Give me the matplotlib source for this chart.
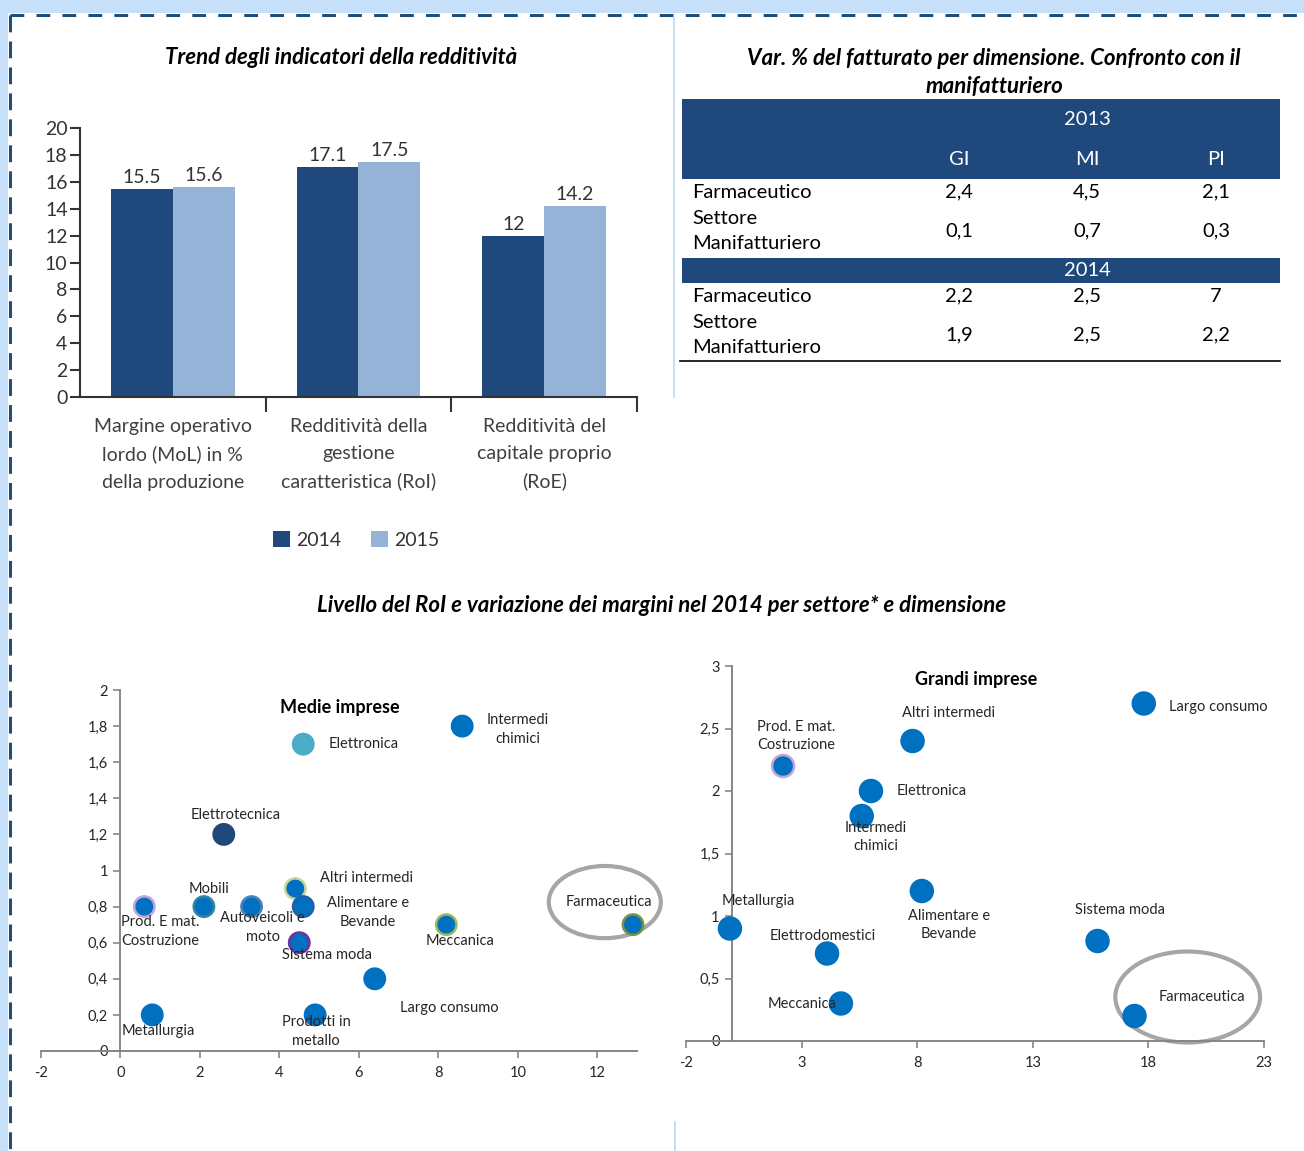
import numpy as np
import matplotlib
matplotlib.use("Agg")
import matplotlib.pyplot as plt
from matplotlib.patches import Rectangle, Ellipse
from matplotlib.ticker import FuncFormatter

plt.rcParams['font.family'] = ['Lato', 'DejaVu Sans']

W, H, DPI = 1304, 1151, 100

# ---------------- data ----------------
bar_categories = ["Margine operativo\nlordo (MoL) in %\ndella produzione",
                  "Redditività della\ngestione\ncaratteristica (RoI)",
                  "Redditività del\ncapitale proprio\n(RoE)"]
bar_years = ["2014", "2015"]
values_2014 = [15.5, 17.1, 12]
values_2015 = [15.6, 17.5, 14.2]

table_years = ["2013", "2014"]
table_columns = ["GI", "MI", "PI"]
table_rows = ["Farmaceutico", "Settore\nManifatturiero"]
var_2013 = [[2.4, 4.5, 2.1], [0.1, 0.7, 0.3]]
var_2014 = [[2.2, 2.5, 7], [1.9, 2.5, 2.2]]

medie_settori = ["Prod. E mat.\nCostruzione", "Mobili", "Autoveicoli e\nmoto", "Altri intermedi",
                 "Alimentare e\nBevande", "Sistema moda", "Elettronica", "Intermedi\nchimici",
                 "Elettrotecnica", "Meccanica", "Farmaceutica", "Largo consumo",
                 "Metallurgia", "Prodotti in\nmetallo"]
medie_x = [0.6, 2.1, 3.3, 4.4, 4.6, 4.5, 4.6, 8.6, 2.6, 8.2, 12.9, 6.4, 0.8, 4.9]
medie_y = [0.8, 0.8, 0.8, 0.9, 0.8, 0.6, 1.7, 1.8, 1.2, 0.7, 0.7, 0.4, 0.2, 0.2]

grandi_settori = ["Largo consumo", "Altri intermedi", "Prod. E mat.\nCostruzione", "Elettronica",
                  "Intermedi\nchimici", "Alimentare e\nBevande", "Metallurgia",
                  "Elettrodomestici", "Meccanica", "Sistema moda", "Farmaceutica"]
grandi_x = [17.8, 7.8, 2.2, 6.0, 5.6, 8.2, -0.1, 4.1, 4.7, 15.8, 17.4]
grandi_y = [2.7, 2.4, 2.2, 2.0, 1.8, 1.2, 0.9, 0.7, 0.3, 0.8, 0.2]

# ---------------- styles ----------------
NAVY = '#1F497D'
LIGHT = '#95B3D7'
BLUE = '#0070C0'
AXIS_GREY = '#868686'
TEXT = '#262626'

medie_fill = [BLUE, BLUE, BLUE, BLUE, BLUE, BLUE, '#4BACC6', BLUE, NAVY, BLUE, BLUE, BLUE, BLUE, BLUE]
medie_edge = ['#C3A5D6', '#31859C', '#4F81BD', '#C3D69B', '#1F5FA8', '#7030A0', '#4BACC6', BLUE,
              NAVY, '#9BBB59', '#77933C', BLUE, BLUE, BLUE]
# label offsets in pixels (dx right, dy up)
medie_offsets = [(16, -25), (5, 18), (11, -21), (71, 11), (65, -6), (28, -12), (60, 0), (56, -3),
                 (12, 19), (14, -16), (-24, 23), (75, -29), (6, -16), (1, -17)]

grandi_fill = [BLUE] * len(grandi_x)
grandi_edge = [BLUE, BLUE, '#C3A5D6', BLUE, BLUE, BLUE, BLUE, BLUE, BLUE, BLUE, BLUE]
grandi_offsets = [(75, -3), (36, 28), (13, 30), (61, 0), (14, -21), (27, -34), (28, 27),
                  (-4, 17), (-39, 0), (22, 31), (67, 19)]


def px_rect(x0, y0, x1, y1):
    """Axes rectangle from pixel corners (origin top-left)."""
    return [x0 / W, 1 - y1 / H, (x1 - x0) / W, (y1 - y0) / H]


def comma(v, _pos=None):
    s = f"{round(v, 2):g}"
    return s.replace('.', ',')


fig = plt.figure(figsize=(W / DPI, H / DPI), dpi=DPI)

# ---------------- page canvas: frame, separators, table ----------------
cv = fig.add_axes([0, 0, 1, 1], zorder=0)
cv.set_xlim(0, W)
cv.set_ylim(H, 0)
cv.axis('off')

FRAME_BLUE = '#C6E0FA'
cv.add_patch(Rectangle((0, 0), W, 13, color=FRAME_BLUE, lw=0))
cv.add_patch(Rectangle((0, 0), 8, H, color=FRAME_BLUE, lw=0))
cv.plot([10, W], [15, 15], color='#1F4E79', lw=2.2, dashes=(4.5, 4), solid_capstyle='butt')
cv.plot([10, 10], [15, H], color='#1F4E79', lw=2.2, dashes=(5.5, 3), solid_capstyle='butt')
cv.plot([674, 674], [16, 397], color='#BDD7EE', lw=1.2)
cv.plot([675, 675], [1122, H], color='#BDD7EE', lw=1.2)

TITLE_KW = dict(ha='center', va='center', fontsize=16, fontweight='bold', fontstyle='italic',
                color='black')

# table of turnover change
TX0, TX1 = 682, 1280
col_x = [959, 1087, 1216]
TFS = 14.5
cv.text(994, 58, "Var. % del fatturato per dimensione. Confronto con il", **TITLE_KW)
cv.text(994, 86, "manifatturiero", **TITLE_KW)

cv.add_patch(Rectangle((TX0, 99), TX1 - TX0, 80, color=NAVY, lw=0))
cv.text(col_x[1], 119, table_years[0], ha='center', va='center', fontsize=TFS, color='white')
for cx, name in zip(col_x, table_columns):
    cv.text(cx, 159, name, ha='center', va='center', fontsize=TFS, color='white')

cv.add_patch(Rectangle((TX0, 258), TX1 - TX0, 25, color=NAVY, lw=0))
cv.text(col_x[1], 270, table_years[1], ha='center', va='center', fontsize=TFS, color='white')

block_rows = [(var_2013, [192, 231]), (var_2014, [296, 335])]
for vals, ys in block_rows:
    for rname, row_vals, ry in zip(table_rows, vals, ys):
        cv.text(692, ry, rname, ha='left', va='center', fontsize=TFS, color='black',
                linespacing=1.55)
        for cx, v in zip(col_x, row_vals):
            cv.text(cx, ry, comma(v), ha='center', va='center', fontsize=TFS, color='black')
cv.plot([680, TX1], [361, 361], color='black', lw=1.2)

# ---------------- bar chart ----------------
fig.text(341 / W, 1 - 58 / H, "Trend degli indicatori della redditività", **TITLE_KW)

axb = fig.add_axes(px_rect(80, 128, 637, 397), zorder=1)
axb.set_facecolor('none')
pos = np.arange(len(bar_categories))
b1 = axb.bar(pos - 1 / 6, values_2014, width=1 / 3, color=NAVY, label=bar_years[0])
b2 = axb.bar(pos + 1 / 6, values_2015, width=1 / 3, color=LIGHT, label=bar_years[1])
axb.bar_label(b1, labels=[f"{v:g}" for v in values_2014], padding=2, fontsize=14, color='#333333')
axb.bar_label(b2, labels=[f"{v:g}" for v in values_2015], padding=2, fontsize=14, color='#333333')
axb.set_xlim(-0.5, 2.5)
axb.set_ylim(0, 20)
axb.set_yticks(range(0, 21, 2))
axb.tick_params(axis='y', length=7, width=1.5, labelsize=14, colors='#333333', pad=2)
axb.set_xticks(pos)
axb.set_xticklabels(bar_categories, fontsize=14, color='#404040', linespacing=1.72)
axb.set_xticks([0.5, 1.5, 2.5], minor=True)
axb.tick_params(axis='x', which='major', length=0, pad=15)
axb.tick_params(axis='x', which='minor', length=11, width=1.5, color='#333333')
for s in ['top', 'right']:
    axb.spines[s].set_visible(False)
for s in ['left', 'bottom']:
    axb.spines[s].set_color('#333333')
    axb.spines[s].set_linewidth(1.5)
axb.legend(loc='center', bbox_to_anchor=(356 / W, 1 - 540 / H), bbox_transform=fig.transFigure,
           ncol=2, frameon=False, fontsize=14, handlelength=0.9, handleheight=0.9,
           handletextpad=0.3, columnspacing=1.5, labelcolor='#333333')

# ---------------- scatter plots ----------------
fig.text(662 / W, 1 - 606 / H,
         "Livello del RoI e variazione dei margini nel 2014 per settore* e dimensione", **TITLE_KW)


def scatter_panel(rect, xs, ys, names, fills, edges, offsets, xlim, ylim, xticks, yticks,
                  title, title_xy, size, ell):
    ax = fig.add_axes(px_rect(*rect), zorder=1)
    ax.set_facecolor('none')
    ax.scatter(xs, ys, s=size, c=fills, edgecolors=edges, linewidths=1.8, zorder=3, clip_on=False)
    for x, y, name, (dx, dy) in zip(xs, ys, names, offsets):
        ax.annotate(name, (x, y), xytext=(dx, dy), textcoords='offset pixels', ha='center',
                    va='center', fontsize=10.5, color=TEXT, linespacing=1.45, zorder=4,
                    annotation_clip=False)
    ax.set_xlim(*xlim)
    ax.set_ylim(*ylim)
    ax.set_xticks(xticks)
    ax.set_yticks(yticks)
    ax.xaxis.set_major_formatter(FuncFormatter(comma))
    ax.yaxis.set_major_formatter(FuncFormatter(comma))
    ax.spines['left'].set_position(('data', 0))
    for s in ['top', 'right']:
        ax.spines[s].set_visible(False)
    for s in ['left', 'bottom']:
        ax.spines[s].set_color(AXIS_GREY)
        ax.spines[s].set_linewidth(1.4)
    ax.tick_params(axis='both', length=5, width=1.2, color=AXIS_GREY, labelsize=10.5,
                   labelcolor=TEXT)
    ax.tick_params(axis='x', pad=6)
    ax.tick_params(axis='y', pad=4)
    (cx, cy), ew, eh = ell
    ax.add_patch(Ellipse((cx, cy), ew, eh, fill=False, edgecolor='#A6A6A6', lw=3,
                         clip_on=False, zorder=2))
    fig.text(title_xy[0] / W, 1 - title_xy[1] / H, title, ha='center', va='center',
             fontsize=13, fontweight='bold', color='black')
    return ax


scatter_panel((41, 690, 637, 1051), medie_x, medie_y, medie_settori, medie_fill, medie_edge,
              medie_offsets, (-2, 13), (0, 2), np.arange(-2, 13, 2), np.arange(0, 2.01, 0.2),
              "Medie imprese", (340, 707), 215, ((12.19, 0.825), 2.82, 0.40))

scatter_panel((686, 666, 1264, 1041), grandi_x, grandi_y, grandi_settori, grandi_fill, grandi_edge,
              grandi_offsets, (-2, 23), (0, 3), np.arange(-2, 24, 5), np.arange(0, 3.01, 0.5),
              "Grandi imprese", (976, 680), 250, ((19.7, 0.352), 6.26, 0.728))

fig.savefig("out.png", dpi=DPI)
